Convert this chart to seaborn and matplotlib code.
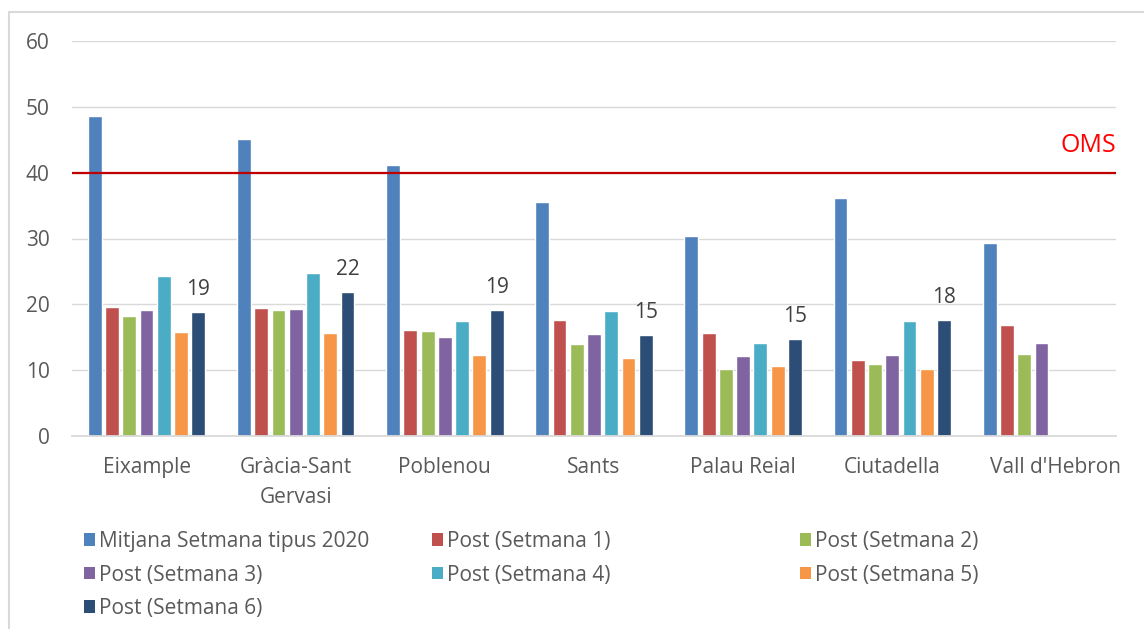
import numpy as np
import pandas as pd
import matplotlib
matplotlib.use("Agg")
import matplotlib.pyplot as plt
import seaborn as sns
from matplotlib.patches import Patch
from matplotlib.lines import Line2D
from matplotlib.transforms import ScaledTranslation

# ---------------- data ----------------
districts = ["Eixample", "Gràcia-Sant\nGervasi", "Poblenou", "Sants",
             "Palau Reial", "Ciutadella", "Vall d'Hebron"]
series_names = ["Mitjana Setmana tipus 2020", "Post (Setmana 1)", "Post (Setmana 2)",
                "Post (Setmana 3)", "Post (Setmana 4)", "Post (Setmana 5)",
                "Post (Setmana 6)"]
mitjana_2020 = [48.6, 45.1, 41.1, 35.6, 30.4, 36.2, 29.3]
setmana_1 = [19.6, 19.4, 16.1, 17.6, 15.6, 11.5, 16.9]
setmana_2 = [18.2, 19.1, 15.9, 14.0, 10.2, 10.9, 12.5]
setmana_3 = [19.1, 19.3, 15.0, 15.5, 12.2, 12.3, 14.2]
setmana_4 = [24.3, 24.7, 17.5, 19.0, 14.1, 17.4, np.nan]
setmana_5 = [15.8, 15.6, 12.3, 11.9, 10.6, 10.2, np.nan]
setmana_6 = [18.8, 21.8, 19.1, 15.3, 14.7, 17.6, np.nan]
oms_limit = 40
y_ticks = [0, 10, 20, 30, 40, 50, 60]

colors = ["#4F81BD", "#C0504D", "#9BBB59", "#8064A2", "#4BACC6", "#F79646", "#2C4D75"]

all_series = [mitjana_2020, setmana_1, setmana_2, setmana_3, setmana_4, setmana_5, setmana_6]
rows = []
for name, vals in zip(series_names, all_series):
    for d, v in zip(districts, vals):
        rows.append({"district": d, "series": name, "value": v})
df = pd.DataFrame(rows).dropna()

# ---------------- plot ----------------
sns.set_theme(style="white")
plt.rcParams["font.family"] = ["Open Sans", "DejaVu Sans"]

W, H = 1144, 629
fig = plt.figure(figsize=(W / 100, H / 100), dpi=100)
ax = fig.add_axes([72 / W, 1 - 436 / H, (1116 - 72) / W, (436 - 41) / H])

sns.barplot(data=df, x="district", y="value", hue="series", order=districts,
            hue_order=series_names, palette=colors, width=0.81, gap=0.2,
            saturation=1, legend=False, ax=ax, errorbar=None)

ax.set_ylim(0, 60)
ax.set_xlim(-0.5, len(districts) - 0.5)
ax.set_yticks(y_ticks)
ax.set_xlabel("")
ax.set_ylabel("")
ax.yaxis.grid(True, color="#D9D9D9", linewidth=1.0)
ax.set_axisbelow(True)
for s in ["left", "right", "top"]:
    ax.spines[s].set_visible(False)
ax.spines["bottom"].set_color("#D9D9D9")
ax.spines["bottom"].set_linewidth(1.3)
ax.tick_params(axis="both", length=0, labelsize=15, colors="#595959")
ax.tick_params(axis="y", pad=16)
ax.tick_params(axis="x", pad=15)
for lab in ax.get_xticklabels():
    lab.set_linespacing(1.55)
# shift last tick label slightly right as in the reference
last = ax.get_xticklabels()[-1]
last.set_transform(last.get_transform() + ScaledTranslation(14 / 100, 0, fig.dpi_scale_trans))

# OMS threshold
ax.axhline(oms_limit, color="#C00000", linewidth=1.6, zorder=3)
ax.text(1.0, 44.2, "OMS", transform=ax.get_yaxis_transform(), ha="right", va="center",
        color="#FF0000", fontsize=18)

# data labels on last series
ax.bar_label(ax.containers[-1], fmt="%.0f", padding=9, fontsize=15, color="#404040")

# legend: three columns laid out row-major
handles = [Patch(facecolor=c, edgecolor="none") for c in colors]
col_items = [[0, 3, 6], [1, 4], [2, 5]]
col_x = [84, 432, 800]
for items, cx in zip(col_items, col_x):
    fig.legend([handles[i] for i in items], [series_names[i] for i in items],
               loc="upper left", bbox_to_anchor=(cx / W, 1 - 531 / H),
               bbox_transform=fig.transFigure, frameon=False, fontsize=15,
               handlelength=0.55, handleheight=0.55, handletextpad=0.15,
               borderpad=0, borderaxespad=0, labelspacing=0.6,
               labelcolor="#595959")

# chart frame
fig.add_artist(Line2D([8.5 / W, 8.5 / W], [0, 1 - 11.5 / H], color="#D9D9D9",
                      linewidth=1.5, transform=fig.transFigure))
fig.add_artist(Line2D([8.5 / W, 1], [1 - 11.5 / H, 1 - 11.5 / H], color="#D9D9D9",
                      linewidth=1.5, transform=fig.transFigure))

fig.savefig("out.png", dpi=100)
